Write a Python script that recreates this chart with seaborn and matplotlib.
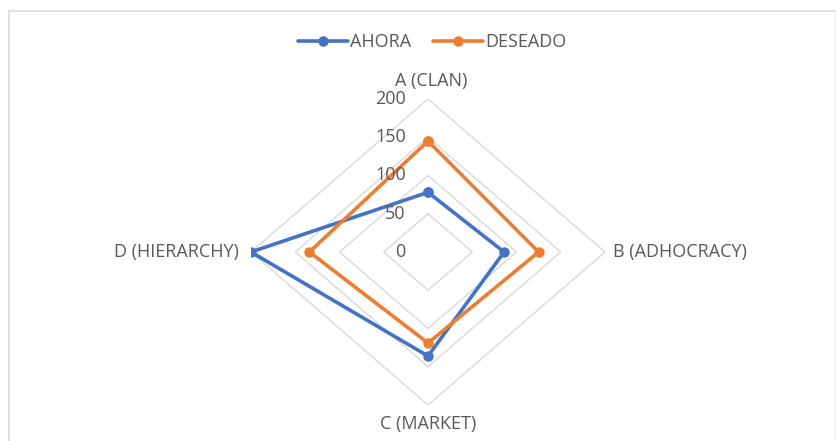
import numpy as np
import matplotlib
matplotlib.use("Agg")
import matplotlib.pyplot as plt
import seaborn as sns
from matplotlib.lines import Line2D

categories = ["A (CLAN)", "B (ADHOCRACY)", "C (MARKET)", "D (HIERARCHY)"]
ahora = [78, 86, 136, 200]
deseado = [145, 125, 119, 134]
series_names = ["AHORA", "DESEADO"]
r_ticks = [0, 50, 100, 150, 200]

sns.set_theme(style="white")
plt.rcParams['font.family'] = ['Open Sans', 'DejaVu Sans']

W, H = 837, 441
fig = plt.figure(figsize=(W / 100, H / 100), dpi=100)
fig.patch.set_facecolor("white")

FS = 13
txt_color = "#595959"

cx, cy, rx, ry = 428, 252, 177, 153
ax = fig.add_axes([(cx - rx) / W, (H - cy - ry) / H, 2 * rx / W, 2 * ry / H],
                  projection="polar")
ax.set_aspect("auto")
ax.set_theta_zero_location("N")
ax.set_theta_direction(-1)
ax.set_ylim(0, max(r_ticks))
ax.grid(False)
ax.spines["polar"].set_visible(False)
ax.set_xticks([])
ax.set_yticks([])
ax.set_facecolor("none")

n = len(categories)
theta = np.linspace(0, 2 * np.pi, n, endpoint=False)
theta_c = np.append(theta, theta[0])

# diamond grid rings
grid_color = "#d9d9d9"
for r in r_ticks[1:]:
    ax.plot(theta_c, [r] * (n + 1), color=grid_color, lw=1.0, zorder=1)

colors = ["#4472C4", "#ED7D31"]
for name, vals, col in zip(series_names, [ahora, deseado], colors):
    v = np.append(vals, vals[0])
    ax.plot(theta_c, v, color=col, lw=2.6, marker="o", markersize=6.5,
            zorder=3, label=name)

# radial tick labels
for r in r_ticks:
    ax.annotate(str(r), xy=(0, r), xytext=(-16, 0), textcoords="offset points",
                ha="right", va="center", fontsize=FS, color=txt_color,
                annotation_clip=False)

# category labels
offsets = [((2, 13), "center", "center"), ((6, 0), "left", "center"),
           ((0, -13.5), "center", "center"), ((-9, 0), "right", "center")]
for t, lab, (off, ha, va) in zip(theta, categories, offsets):
    ax.annotate(lab, xy=(t, max(r_ticks)), xytext=off, textcoords="offset points",
                ha=ha, va=va, fontsize=FS, color=txt_color,
                annotation_clip=False)

handles = [Line2D([0], [0], color=c, lw=2.6, marker="o", markersize=6.5)
           for c in colors]
fig.legend(handles, series_names, loc="center", bbox_to_anchor=(432 / W, 1 - 42 / H),
           ncol=2, frameon=False, fontsize=FS, handlelength=2.8,
           columnspacing=1.2, handletextpad=0.1, labelcolor=txt_color)

# chart area border (top, left, right)
bc = "#d9d9d9"
fig.add_artist(Line2D([9 / W, 835 / W], [1 - 11 / H, 1 - 11 / H], color=bc, lw=1.2,
                      transform=fig.transFigure))
fig.add_artist(Line2D([9 / W, 9 / W], [0, 1 - 11 / H], color=bc, lw=1.2,
                      transform=fig.transFigure))
fig.add_artist(Line2D([835 / W, 835 / W], [0, 1 - 11 / H], color="#eeeeee", lw=1.0,
                      transform=fig.transFigure))

fig.savefig("out.png", dpi=100)
